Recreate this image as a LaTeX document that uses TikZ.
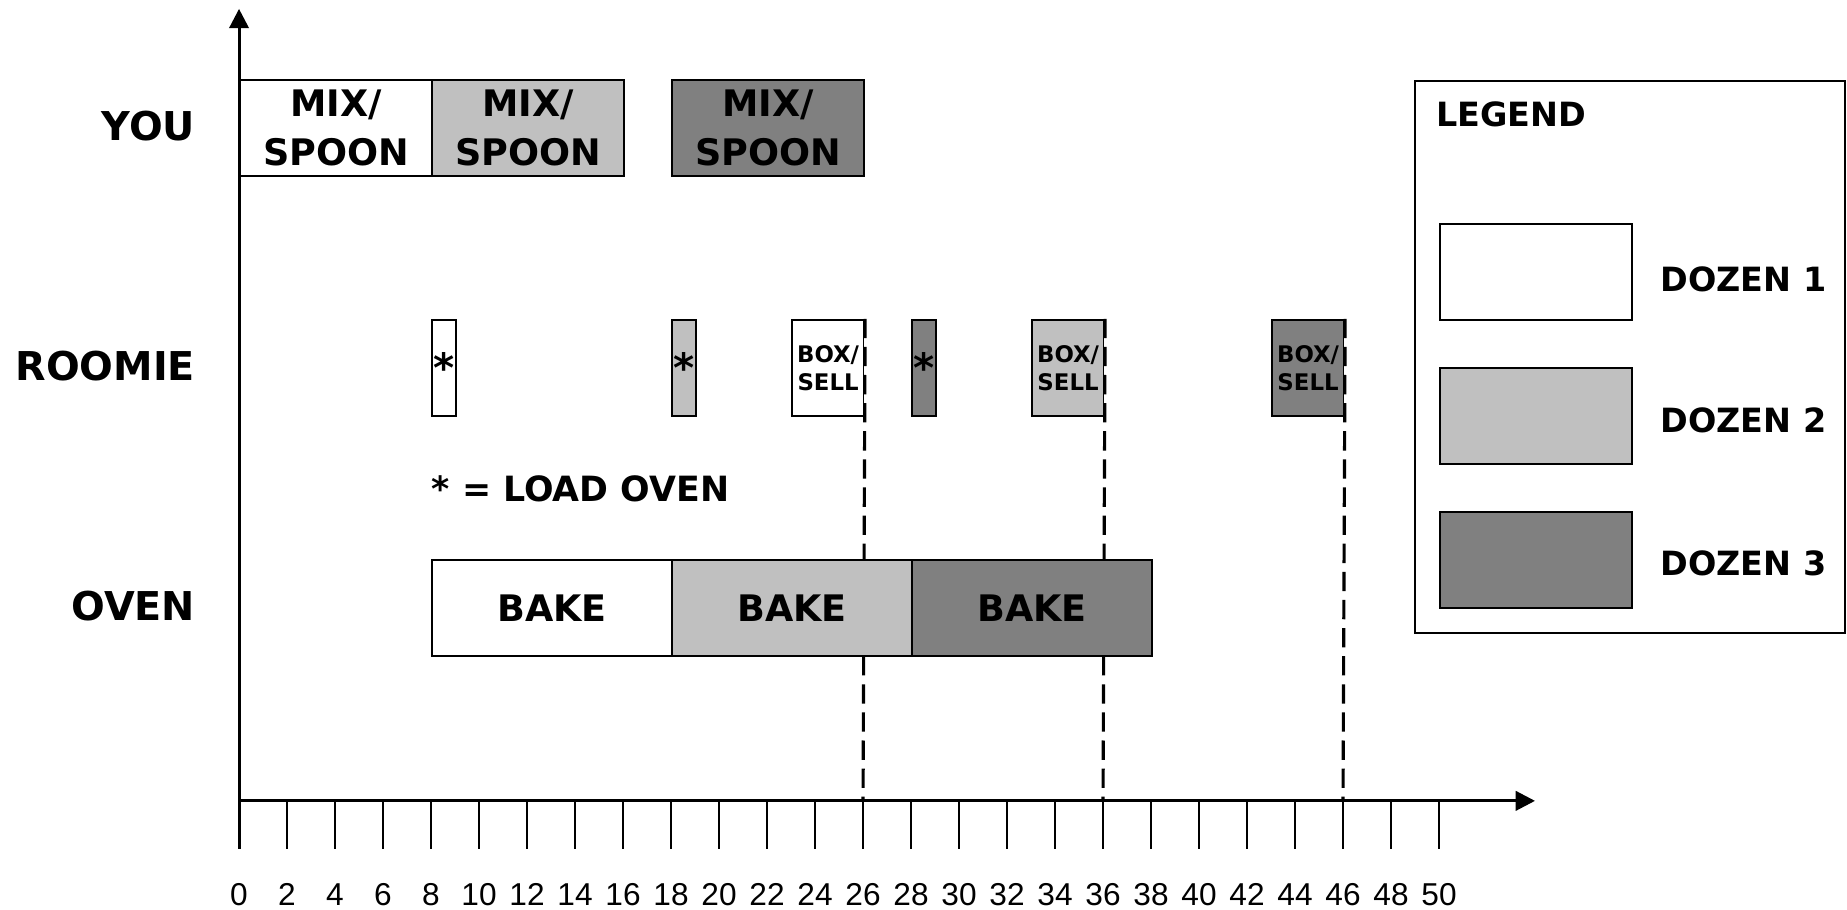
\documentclass[tikz,border=0pt]{standalone}
\usepackage{fontspec}
\setmainfont{DejaVu Sans}
\newfontfamily\tickfont{Liberation Sans}
\usetikzlibrary{arrows.meta}
\definecolor{dozena}{HTML}{FFFFFF}
\definecolor{dozenb}{HTML}{C0C0C0}
\definecolor{dozenc}{HTML}{808080}

\begin{document}
\begin{tikzpicture}[x=0.24cm,y=0.24cm,
  axis/.style={line width=0.85pt,-{Triangle[length=5.5pt,width=5.5pt]}},
  tick/.style={line width=0.5pt},
  ticklabel/.style={inner sep=0pt,font=\tickfont\fontsize{9}{10}\selectfont},
  task/.style={draw=black,line width=0.6pt,inner sep=0pt,anchor=south west,align=center,minimum height=0.96cm},
  rowlabel/.style={anchor=east,inner sep=0pt,font=\bfseries\fontsize{11.3}{13}\selectfont},
  bigtext/.style={font=\bfseries\fontsize{10.4}{14}\selectfont},
  smalltext/.style={font=\bfseries\fontsize{6.5}{8}\selectfont},
  startext/.style={font=\bfseries\fontsize{11.5}{13}\selectfont},
  legtext/.style={anchor=west,inner sep=0pt,font=\bfseries\fontsize{9.5}{11}\selectfont},
  dashline/.style={line width=0.9pt,dash pattern=on 5.5pt off 2.5pt}]
\useasboundingbox (-9.96,-4.51) rectangle (67,33.37);
% axes
\coordinate (ybot) at (0,-2);
\coordinate (ytop) at (0,33);
\coordinate (xbeg) at (0,0);
\coordinate (xend) at (54,0);
\draw[axis] (ybot) -- (ytop);
\draw[axis] (xbeg) -- (xend);
\draw[tick] (2,0) -- (2,-2);
\draw[tick] (4,0) -- (4,-2);
\draw[tick] (6,0) -- (6,-2);
\draw[tick] (8,0) -- (8,-2);
\draw[tick] (10,0) -- (10,-2);
\draw[tick] (12,0) -- (12,-2);
\draw[tick] (14,0) -- (14,-2);
\draw[tick] (16,0) -- (16,-2);
\draw[tick] (18,0) -- (18,-2);
\draw[tick] (20,0) -- (20,-2);
\draw[tick] (22,0) -- (22,-2);
\draw[tick] (24,0) -- (24,-2);
\draw[tick] (26,0) -- (26,-2);
\draw[tick] (28,0) -- (28,-2);
\draw[tick] (30,0) -- (30,-2);
\draw[tick] (32,0) -- (32,-2);
\draw[tick] (34,0) -- (34,-2);
\draw[tick] (36,0) -- (36,-2);
\draw[tick] (38,0) -- (38,-2);
\draw[tick] (40,0) -- (40,-2);
\draw[tick] (42,0) -- (42,-2);
\draw[tick] (44,0) -- (44,-2);
\draw[tick] (46,0) -- (46,-2);
\draw[tick] (48,0) -- (48,-2);
\draw[tick] (50,0) -- (50,-2);
\node[ticklabel] (n0) at (0,-3.9) {0};
\node[ticklabel] (n2) at (2,-3.9) {2};
\node[ticklabel] (n4) at (4,-3.9) {4};
\node[ticklabel] (n6) at (6,-3.9) {6};
\node[ticklabel] (n8) at (8,-3.9) {8};
\node[ticklabel] (n10) at (10,-3.9) {10};
\node[ticklabel] (n12) at (12,-3.9) {12};
\node[ticklabel] (n14) at (14,-3.9) {14};
\node[ticklabel] (n16) at (16,-3.9) {16};
\node[ticklabel] (n18) at (18,-3.9) {18};
\node[ticklabel] (n20) at (20,-3.9) {20};
\node[ticklabel] (n22) at (22,-3.9) {22};
\node[ticklabel] (n24) at (24,-3.9) {24};
\node[ticklabel] (n26) at (26,-3.9) {26};
\node[ticklabel] (n28) at (28,-3.9) {28};
\node[ticklabel] (n30) at (30,-3.9) {30};
\node[ticklabel] (n32) at (32,-3.9) {32};
\node[ticklabel] (n34) at (34,-3.9) {34};
\node[ticklabel] (n36) at (36,-3.9) {36};
\node[ticklabel] (n38) at (38,-3.9) {38};
\node[ticklabel] (n40) at (40,-3.9) {40};
\node[ticklabel] (n42) at (42,-3.9) {42};
\node[ticklabel] (n44) at (44,-3.9) {44};
\node[ticklabel] (n46) at (46,-3.9) {46};
\node[ticklabel] (n48) at (48,-3.9) {48};
\node[ticklabel] (n50) at (50,-3.9) {50};
% rows
\node[rowlabel] (you) at (-1.8,28.1) {YOU};
\node[rowlabel] (roomie) at (-1.8,18.1) {ROOMIE};
\node[rowlabel] (oven) at (-1.8,8.1) {OVEN};
\node[task,bigtext,fill=dozena,minimum width=1.92cm] (mix1) at (0,26) {MIX/\\SPOON};
\node[task,bigtext,fill=dozenb,minimum width=1.92cm] (mix2) at (8,26) {MIX/\\SPOON};
\node[task,bigtext,fill=dozenc,minimum width=1.92cm] (mix3) at (18,26) {MIX/\\SPOON};
\node[task,startext,fill=dozena,minimum width=0.24cm] (load1) at (8,16) {*};
\node[task,startext,fill=dozenb,minimum width=0.24cm] (load2) at (18,16) {*};
\node[task,startext,fill=dozenc,minimum width=0.24cm] (load3) at (28,16) {*};
\node[task,smalltext,fill=dozena,minimum width=0.72cm] (sell1) at (23,16) {BOX/\\SELL};
\node[task,smalltext,fill=dozenb,minimum width=0.72cm] (sell2) at (33,16) {BOX/\\SELL};
\node[task,smalltext,fill=dozenc,minimum width=0.72cm] (sell3) at (43,16) {BOX/\\SELL};
\node[legtext,font=\bfseries\fontsize{9.9}{11}\selectfont] (loadnote) at (8,13) {* = LOAD OVEN};
% finish marks
\coordinate (t26) at (26,0);
\coordinate (t36) at (36,0);
\coordinate (t46) at (46,0);
\draw[white,line width=0.9pt] (sell1.north east) -- (sell1.south east);
\draw[white,line width=0.9pt] (sell2.north east) -- (sell2.south east);
\draw[white,line width=0.9pt] (sell3.north east) -- (sell3.south east);
\draw[dashline] (sell1.north east) -- (t26);
\draw[dashline] (sell2.north east) -- (t36);
\draw[dashline] (sell3.north east) -- (t46);
\node[task,bigtext,fill=dozena,minimum width=2.4cm] (bake1) at (8,6) {BAKE};
\node[task,bigtext,fill=dozenb,minimum width=2.4cm] (bake2) at (18,6) {BAKE};
\node[task,bigtext,fill=dozenc,minimum width=2.4cm] (bake3) at (28,6) {BAKE};
% legend
\draw[line width=0.6pt] (49,7) rectangle (66.9,30);
\node[legtext] (legend) at (49.85,28.6) {LEGEND};
\node[task,fill=dozena,minimum width=1.92cm] (key1) at (50,20) {};
\node[task,fill=dozenb,minimum width=1.92cm] (key2) at (50,14) {};
\node[task,fill=dozenc,minimum width=1.92cm] (key3) at (50,8) {};
\node[legtext] (dozen1) at (59.2,21.75) {DOZEN 1};
\node[legtext] (dozen2) at (59.2,15.85) {DOZEN 2};
\node[legtext] (dozen3) at (59.2,9.9) {DOZEN 3};
\end{tikzpicture}
\end{document}
